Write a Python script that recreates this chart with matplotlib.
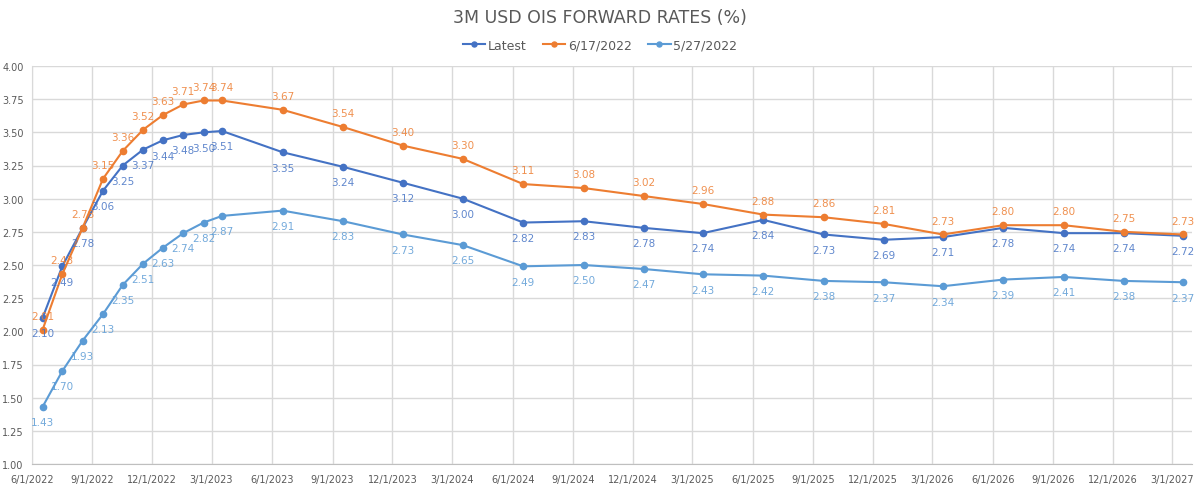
import matplotlib
matplotlib.use("Agg")
import matplotlib.pyplot as plt
import numpy as np
import pandas as pd

plt.rcParams['font.family'] = ['Liberation Sans Narrow', 'DejaVu Sans']

# monthly points for the first 10 months, then quarterly (all on the 17th)
dates = list(pd.date_range("2022-06-01", periods=10, freq="MS") + pd.Timedelta(days=16)) + \
        list(pd.date_range("2023-06-01", periods=16, freq="3MS") + pd.Timedelta(days=16))

latest = [2.10, 2.49, 2.78, 3.06, 3.25, 3.37, 3.44, 3.48, 3.50, 3.51,
          3.35, 3.24, 3.12, 3.00, 2.82, 2.83, 2.78, 2.74, 2.84, 2.73,
          2.69, 2.71, 2.78, 2.74, 2.74, 2.72]
jun17 = [2.01, 2.43, 2.78, 3.15, 3.36, 3.52, 3.63, 3.71, 3.74, 3.74,
         3.67, 3.54, 3.40, 3.30, 3.11, 3.08, 3.02, 2.96, 2.88, 2.86,
         2.81, 2.73, 2.80, 2.80, 2.75, 2.73]
may27 = [1.43, 1.70, 1.93, 2.13, 2.35, 2.51, 2.63, 2.74, 2.82, 2.87,
         2.91, 2.83, 2.73, 2.65, 2.49, 2.50, 2.47, 2.43, 2.42, 2.38,
         2.37, 2.34, 2.39, 2.41, 2.38, 2.37]

series = [
    ("Latest", latest, "#4472C4", -11),
    ("6/17/2022", jun17, "#ED7D31", 10),
    ("5/27/2022", may27, "#5B9BD5", -11),
]

fig = plt.figure(figsize=(12, 4.89), dpi=100)
ax = fig.add_axes([32 / 1200, 1 - 465 / 489, 1160 / 1200, 398 / 489])

for name, vals, color, off in series:
    ax.plot(dates, vals, color=color, lw=1.5, marker="o", ms=4.5, label=name, zorder=3)
    for d, v in zip(dates, vals):
        ax.annotate(f"{v:.2f}", (d, v), xytext=(0, off), textcoords="offset points",
                    ha="center", va="center", fontsize=7.5, color=color, alpha=0.85, zorder=4)

ax.set_ylim(1.0, 4.0)
ax.set_yticks(np.arange(1.0, 4.01, 0.25))
ax.yaxis.set_major_formatter(plt.FuncFormatter(lambda v, p: f"{v:.2f}"))
ax.set_xlim(pd.Timestamp("2022-06-01"), pd.Timestamp("2027-03-31"))
ticks = pd.date_range("2022-06-01", "2027-03-01", freq="3MS")
ax.set_xticks(ticks)
ax.set_xticklabels([f"{t.month}/{t.day}/{t.year}" for t in ticks])

ax.grid(True, color="#D9D9D9", lw=1)
ax.set_axisbelow(True)
for s in ["top", "right"]:
    ax.spines[s].set_visible(False)
ax.spines["left"].set_color("#D9D9D9")
ax.spines["bottom"].set_color("#BFBFBF")
ax.tick_params(length=0, labelsize=7, colors="#595959")
ax.tick_params(axis="y", pad=6)
ax.tick_params(axis="x", pad=7)

fig.text(0.5, 1 - 18 / 489, "3M USD OIS FORWARD RATES (%)", ha="center", va="center",
         fontsize=12.5, color="#595959")
fig.legend(loc="center", bbox_to_anchor=(0.5, 1 - 46 / 489), ncol=3, frameon=False,
           fontsize=9, labelcolor="#595959", handlelength=1.8, columnspacing=1.3,
           handletextpad=0.2, markerscale=0.8)

fig.savefig("out.png", dpi=100)
